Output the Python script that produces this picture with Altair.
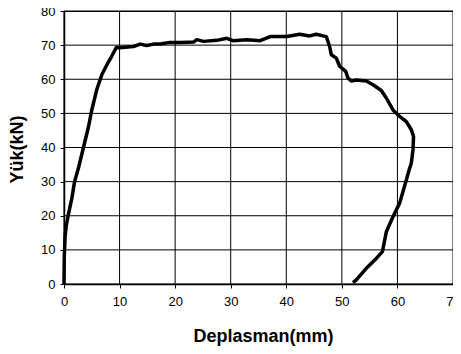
import altair as alt
import pandas as pd

deplasman = [0, 0.05, 0.2, 0.4, 0.8, 1.4, 1.9, 2.6, 3.5, 4.4, 5.0, 5.9, 6.8, 7.7, 8.6, 9.4,
             10.0, 11.0, 12.5, 13.7, 14.9, 16.1, 17.5, 19.1, 21.0, 23.3, 23.9, 25.1, 27.5,
             29.3, 30.4, 32.9, 35.3, 37.1, 40.1, 42.4, 44.2, 45.4, 47.2, 47.8, 48.1, 49.0,
             49.6, 50.7, 51.1, 51.7, 52.6, 54.4, 55.6, 57.1, 58.0, 59.2, 60.4, 61.6, 62.5,
             62.9, 62.8, 62.5, 62.1, 61.6, 60.4, 59.2, 58.0, 57.3, 56.2, 54.4, 52.6, 52.0]
yuk = [0, 8, 14, 17, 20.5, 25, 30, 34, 40, 46, 51, 57, 61.3, 64.2, 66.8, 69.3,
       69.2, 69.4, 69.6, 70.3, 69.9, 70.3, 70.4, 70.8, 70.8, 70.9, 71.6, 71.1, 71.4,
       72.0, 71.3, 71.6, 71.3, 72.5, 72.5, 73.2, 72.7, 73.2, 72.5, 69.6, 67.2, 66.2,
       63.8, 62.3, 60.3, 59.5, 59.8, 59.5, 58.4, 56.7, 54.5, 51.0, 49.1, 47.6, 45.2,
       43.2, 39.3, 35.4, 33.4, 30.5, 23.7, 19.7, 15.3, 9.5, 7.5, 4.6, 1.2, 0.4]

x_ticks = [0, 10, 20, 30, 40, 50, 60, 70]
y_ticks = [0, 10, 20, 30, 40, 50, 60, 70, 80]

df = pd.DataFrame({"x": deplasman, "y": yuk, "i": list(range(len(yuk)))})
gx = pd.DataFrame({"x": x_ticks})
gy = pd.DataFrame({"y": y_ticks})

FONT = "Liberation Sans"

xscale = alt.Scale(domain=[0, 70], nice=False)
yscale = alt.Scale(domain=[0, 80], nice=False)

xaxis = alt.Axis(values=x_ticks, title="Deplasman(mm)", titleX=199, titleY=57,
                 titleAlign="center", titleBaseline="alphabetic",
                 labelPadding=7, labelBaseline="top", grid=False)
yaxis = alt.Axis(values=y_ticks, title="Yük(kN)", titleX=-47, titleY=138,
                 titleAlign="center", titleBaseline="middle", titleAngle=-90,
                 labelPadding=5, grid=False)

vgrid = alt.Chart(gx).mark_rule(color="black", strokeWidth=1).encode(
    x=alt.X("x:Q", scale=xscale, axis=xaxis))
hgrid = alt.Chart(gy).mark_rule(color="black", strokeWidth=1).encode(
    y=alt.Y("y:Q", scale=yscale, axis=yaxis))

line = alt.Chart(df).mark_line(color="black", strokeWidth=3.5, strokeJoin="round").encode(
    x=alt.X("x:Q", scale=xscale, axis=xaxis),
    y=alt.Y("y:Q", scale=yscale, axis=yaxis),
    order="i:Q",
)

chart = alt.layer(vgrid, hgrid, line).properties(
    width=389, height=273,
    autosize=alt.AutoSizeParams(type="none"),
    padding={"left": 56, "top": 3, "right": 0, "bottom": 62},
).configure_view(
    stroke="#000000", strokeWidth=1
).configure_axis(
    domainColor="black", domainWidth=1.5,
    tickColor="black", tickSize=4, tickWidth=1,
    labelFont=FONT, labelFontSize=13, labelColor="black",
    titleFont=FONT, titleFontSize=18, titleFontWeight="bold", titleColor="black",
    labelFlush=False, labelOverlap=False,
)

chart.save("out.html", embed_options={"renderer": "svg", "actions": False})
